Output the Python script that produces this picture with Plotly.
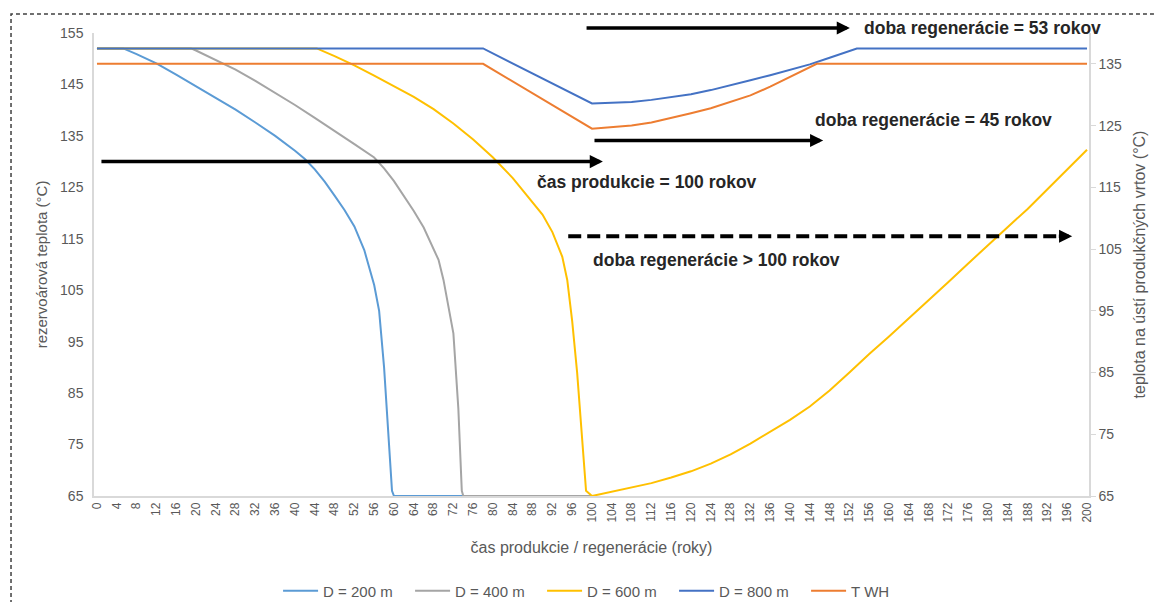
import plotly.graph_objects as go

# ---- data (years, temperature °C) ----
t_d200 = [0, 5.3, 8, 12, 16, 20, 24, 28, 32, 36, 40, 42, 44, 46, 48, 50, 52, 54, 56, 57, 58, 59, 59.6, 60, 70, 80, 90, 100]
v_d200 = [152, 152, 150.9, 149.1, 146.9, 144.6, 142.4, 140.1, 137.6, 135.0, 132.1, 130.5, 128.5, 126.1, 123.4, 120.6, 117.4, 112.8, 106, 101, 90, 76, 66, 65, 65, 65, 65, 65]

t_d400 = [0, 19, 20, 24, 28, 32, 36, 40, 44, 48, 52, 56, 58, 60, 62, 64, 66, 68, 69, 70, 71, 72, 73, 73.7, 74, 80, 90, 100]
v_d400 = [152, 152, 151.6, 149.8, 147.9, 145.7, 143.4, 141.0, 138.5, 136.0, 133.4, 130.8, 128.7, 126.2, 123.4, 120.4, 117.2, 113.2, 110.9, 107, 102, 96.6, 82, 66, 65, 65, 65, 65]

t_d600 = [0, 44.4, 48, 52, 56, 60, 64, 68, 72, 76, 80, 84, 88, 90, 92, 94, 95, 96, 97, 98, 98.8, 100,
          104, 108, 112, 116, 120, 124, 128, 132, 136, 140, 144, 148, 152, 156, 160, 164, 168, 172,
          176, 180, 184, 188, 192, 196, 200]
v_d600 = [152, 152, 150.5, 148.7, 146.7, 144.7, 142.6, 140.2, 137.4, 134.3, 130.8, 126.8, 122.2, 119.7, 116.3, 111.5, 107, 99, 89, 77, 66, 65,
          65.8, 66.6, 67.5, 68.6, 69.8, 71.3, 73.1, 75.2, 77.5, 79.8, 82.4, 85.5, 89.0, 92.6, 96.0, 99.5, 103.0, 106.6,
          110.2, 113.8, 117.3, 120.8, 124.6, 128.4, 132.3]

t_d800 = [0, 78, 100, 104, 108, 112, 116, 120, 124, 128, 132, 136, 140, 144, 148, 152, 153.5, 200]
v_d800 = [152, 152, 141.3, 141.4, 141.6, 142.0, 142.5, 143.1, 143.9, 144.8, 145.8, 146.8, 147.9, 148.9, 150.2, 151.6, 152, 152]

t_twh = [0, 78, 100, 104, 108, 112, 116, 120, 124, 128, 132, 136, 140, 144, 145.4, 200]
v_twh = [135, 135, 124.5, 124.7, 125.0, 125.5, 126.2, 127.0, 127.8, 128.8, 129.9, 131.3, 132.9, 134.5, 135, 135]

x_ticks = list(range(0, 201, 4))
y_left_ticks = [65, 75, 85, 95, 105, 115, 125, 135, 145, 155]
y_right_ticks = [65, 75, 85, 95, 105, 115, 125, 135]

FONT = "Liberation Sans, Arial, sans-serif"
GREY_TXT = "#595959"
AXIS_LINE = "#D9D9D9"

fig = go.Figure()
fig.add_trace(go.Scatter(x=t_d200, y=v_d200, mode="lines", name="D = 200 m",
                         line=dict(color="#5B9BD5", width=2)))
fig.add_trace(go.Scatter(x=t_d400, y=v_d400, mode="lines", name="D = 400 m",
                         line=dict(color="#A5A5A5", width=2)))
fig.add_trace(go.Scatter(x=t_d600, y=v_d600, mode="lines", name="D = 600 m",
                         line=dict(color="#FFC000", width=2)))
fig.add_trace(go.Scatter(x=t_d800, y=v_d800, mode="lines", name="D = 800 m",
                         line=dict(color="#4472C4", width=2)))
fig.add_trace(go.Scatter(x=t_twh, y=v_twh, mode="lines", name="T WH", yaxis="y2",
                         line=dict(color="#ED7D31", width=2)))

ARW = dict(text="", showarrow=True, arrowhead=2, arrowsize=0.75, arrowwidth=3.5,
           arrowcolor="black", standoff=0, startstandoff=0)
ann = []
# top arrow (above plot area) -> paper y, horizontal (pixel offset 0)
ann.append(dict(x=152.1, y=1.0108, ax=98.6, ay=0, xref="x", yref="paper",
                axref="x", ayref="pixel", **ARW))
for (x0, x1, yy) in [(100.2, 146.7, 134.1), (0.6, 102.2, 130.0)]:
    ann.append(dict(x=x1, y=yy, ax=x0, ay=yy, xref="x", yref="y", axref="x", ayref="y", **ARW))
# dashed arrow head
ann.append(dict(x=197, y=115.5, ax=194, ay=115.5, xref="x", yref="y", axref="x", ayref="y", **ARW))

TXT = dict(showarrow=False, xanchor="left", yanchor="middle",
           font=dict(family=FONT, size=17.5, color="#262626"))
ann.append(dict(x=154.5, y=1.0108, xref="x", yref="paper",
                text="<b>doba regenerácie = 53 rokov</b>", **TXT))
labels = [
    ("doba regenerácie = 45 rokov", 144.6, 138.1),
    ("čas produkcie = 100 rokov", 88.5, 126.0),
    ("doba regenerácie > 100 rokov", 99.8, 110.9),
]
for txt, xx, yy in labels:
    ann.append(dict(x=xx, y=yy, xref="x", yref="y", text="<b>%s</b>" % txt, **TXT))

shapes = [
    dict(type="line", xref="x", yref="y", x0=95.2, x1=194.5, y0=115.5, y1=115.5,
         line=dict(color="black", width=4, dash="13px,6px")),
    dict(type="rect", xref="paper", yref="paper", x0=-0.0834, x1=1.09, y0=-0.3, y1=1.041,
         line=dict(color="#404040", width=1.5, dash="4px,3px"), layer="above"),
]

# page has an 8px body margin -> figure sized/offset to compensate
fig.update_layout(
    width=1147, height=594,
    margin=dict(l=86, r=66, t=25, b=106),
    paper_bgcolor="white", plot_bgcolor="white",
    font=dict(family=FONT, color=GREY_TXT, size=14),
    showlegend=True,
    legend=dict(orientation="h", xref="paper", x=0.185, xanchor="left",
                yref="container", y=0.0185, yanchor="middle",
                font=dict(family=FONT, size=15, color=GREY_TXT), itemwidth=35,
                entrywidth=82, entrywidthmode="pixels", traceorder="normal",
                bgcolor="rgba(0,0,0,0)"),
    xaxis=dict(range=[-0.6, 200.4], tickmode="array", tickvals=x_ticks,
               ticktext=[str(v) for v in x_ticks], tickangle=-90,
               tickfont=dict(size=12, color=GREY_TXT), showgrid=False, zeroline=False,
               showline=True, linecolor=AXIS_LINE, linewidth=1.5, ticks="",
               title=dict(text="čas produkcie / regenerácie (roky)", standoff=20,
                          font=dict(size=16, color=GREY_TXT)),
               automargin=False),
    yaxis=dict(range=[65, 155], tickmode="array", tickvals=y_left_ticks,
               tickfont=dict(size=14, color=GREY_TXT), showgrid=False, zeroline=False,
               showline=True, linecolor=AXIS_LINE, linewidth=1.5, ticks="",
               ticklabelstandoff=6,
               title=dict(text="rezervoárová teplota (°C)", standoff=9,
                          font=dict(size=15, color=GREY_TXT)),
               automargin=False),
    yaxis2=dict(range=[65, 140], overlaying="y", side="right", tickmode="array",
                tickvals=y_right_ticks, tickfont=dict(size=14, color=GREY_TXT),
                showgrid=False, zeroline=False, showline=True, linecolor=AXIS_LINE,
                linewidth=1.5, ticks="outside", ticklen=5, tickcolor=AXIS_LINE,
                title=dict(text="teplota na ústí produkčných vrtov (°C)", standoff=13,
                           font=dict(size=16, color=GREY_TXT)),
                automargin=False),
    annotations=ann,
    shapes=shapes,
)

fig.write_html("out.html")
